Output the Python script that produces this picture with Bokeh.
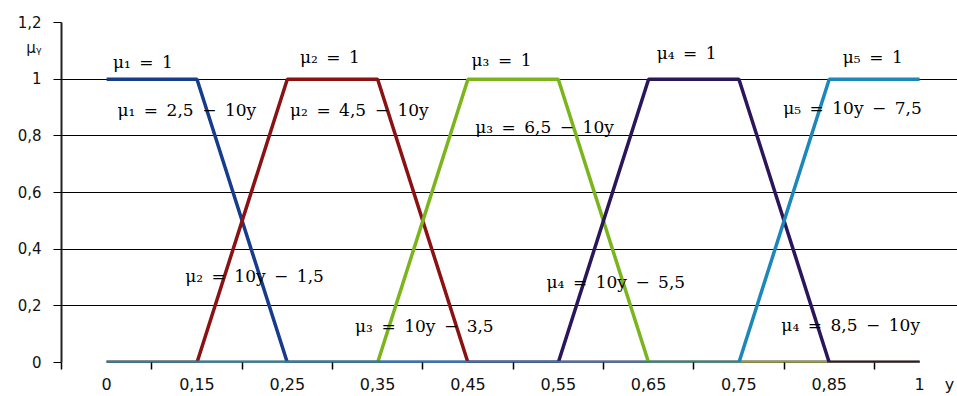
from bokeh.plotting import figure
from bokeh.models import Range1d, FixedTicker, ColumnDataSource
from bokeh.core.properties import value
from bokeh.embed import file_html
from bokeh.resources import INLINE

# ---- data ----
categories = ["0", "0,15", "0,25", "0,35", "0,45", "0,55", "0,65", "0,75", "0,85", "1"]
mu1 = [1, 1, 0, 0, 0, 0, 0, 0, 0, 0]
mu2 = [0, 0, 1, 1, 0, 0, 0, 0, 0, 0]
mu3 = [0, 0, 0, 0, 1, 1, 0, 0, 0, 0]
mu4 = [0, 0, 0, 0, 0, 0, 1, 1, 0, 0]
mu5 = [0, 0, 0, 0, 0, 0, 0, 0, 1, 1]
series = [mu1, mu2, mu3, mu4, mu5]
series_colors = ["#173c8c", "#8b1212", "#7ab51d", "#2b165c", "#1b87ba"]

y_ticks = [0, 0.2, 0.4, 0.6, 0.8, 1.0, 1.2]
y_tick_labels = ["0", "0,2", "0,4", "0,6", "0,8", "1", "1,2"]
y_title = "μᵧ"
y_title_pos = 1.11
x_title = "y"
x_title_pos = 9.33

label_texts = [
    "μ₁ = 1", "μ₁ = 2,5 − 10y",
    "μ₂ = 1", "μ₂ = 4,5 − 10y",
    "μ₃ = 1", "μ₃ = 6,5 − 10y",
    "μ₄ = 1",
    "μ₅ = 1", "μ₅ = 10y − 7,5",
    "μ₂ = 10y − 1,5", "μ₃ = 10y − 3,5",
    "μ₄ = 10y − 5,5", "μ₄ = 8,5 − 10y",
]
label_x = [0.07, 0.12, 2.14, 2.03, 4.04, 4.08, 6.09, 8.15, 7.49, 0.87, 2.75, 4.87, 7.47]
label_y = [1.059, 0.89, 1.077, 0.89, 1.066, 0.83, 1.094, 1.077, 0.90, 0.306, 0.13, 0.285, 0.134]

x_pos = list(range(len(categories)))

p = figure(width=957, height=396, output_backend="svg", toolbar_location=None,
           x_range=Range1d(-0.5, 9.42), y_range=Range1d(0, 1.2),
           min_border_left=61, min_border_right=0, min_border_top=22, min_border_bottom=33)
p.outline_line_color = None
p.background_fill_color = "white"

# grid (the 0 gridline serves as the x-axis line, drawn beneath the series)
p.xgrid.visible = False
p.ygrid.ticker = FixedTicker(ticks=y_ticks)
p.ygrid.grid_line_color = "black"
p.ygrid.grid_line_width = 1.2

# y axis: visible tick marks are the "minor" ticks, labels on majors (incl. axis title)
p.yaxis.ticker = FixedTicker(ticks=y_ticks + [y_title_pos], minor_ticks=y_ticks)
ylabels = {t: l for t, l in zip(y_ticks, y_tick_labels)}
ylabels[y_title_pos] = y_title
p.yaxis.major_label_overrides = ylabels
p.yaxis.axis_line_color = "#222222"
p.yaxis.axis_line_width = 2
p.yaxis.major_tick_line_color = None
p.yaxis.major_tick_out = 8
p.yaxis.major_tick_in = 0
p.yaxis.minor_tick_line_color = "black"
p.yaxis.minor_tick_out = 8
p.yaxis.minor_tick_in = 0
p.yaxis.major_label_standoff = 12
p.yaxis.major_label_text_font = "DejaVu Sans"
p.yaxis.major_label_text_font_size = "15px"
p.yaxis.major_label_text_color = "#111111"

# x axis: labels at categories, tick marks between categories
p.xaxis.ticker = FixedTicker(ticks=x_pos + [x_title_pos],
                             minor_ticks=[i - 0.5 for i in range(len(categories) + 1)])
xlabels = {i: c for i, c in zip(x_pos, categories)}
xlabels[x_title_pos] = x_title
p.xaxis.major_label_overrides = xlabels
p.xaxis.axis_line_color = None
p.xaxis.major_tick_line_color = None
p.xaxis.major_tick_out = 0
p.xaxis.major_tick_in = 0
p.xaxis.minor_tick_line_color = "black"
p.xaxis.minor_tick_line_width = 1.5
p.xaxis.minor_tick_out = 7
p.xaxis.minor_tick_in = 0
p.xaxis.major_label_standoff = 5
p.xaxis.major_label_text_font = "DejaVu Sans"
p.xaxis.major_label_text_font_size = "16px"
p.xaxis.major_label_text_color = "#111111"

# series
for vals, col in zip(series, series_colors):
    p.line(x_pos, vals, line_color=col, line_width=3.5)

# formula labels
src = ColumnDataSource(dict(x=label_x, y=label_y,
                            text=[t.replace(" ", "\u2002") for t in label_texts]))
p.text(x="x", y="y", text="text", source=src, text_font=value("DejaVu Serif"),
       text_font_size="17px", text_baseline="middle",
       text_align="left", text_color="#000000")

open("out.html", "w").write(file_html(p, INLINE))
